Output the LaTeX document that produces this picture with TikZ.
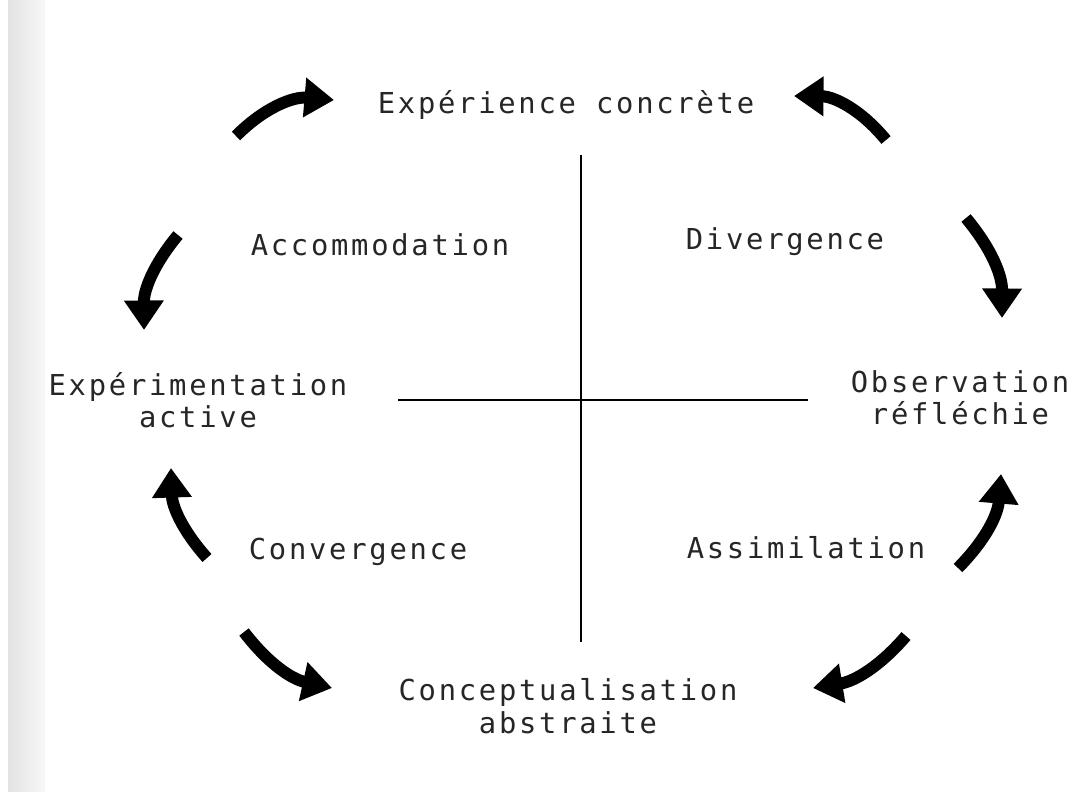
\documentclass[tikz,border=0pt]{standalone}
\usepackage{fontspec}
\newfontfamily\typewriter[LetterSpace=9.5]{DejaVu Sans Mono}
\usetikzlibrary{arrows.meta}

\begin{document}
\begin{tikzpicture}[x=0.025cm,y=0.025cm,
                    label node/.style={align=center,inner sep=0pt,text=black!85,
                      font=\typewriter\fontsize{20.5}{23}\selectfont},
                    cycle arrow/.style={line width=8.5pt,
                      -{Triangle[length=21pt,width=27pt]}},
                    axis line/.style={line width=1.2pt}]
  \useasboundingbox (0,0) rectangle (1080,-791);
  \shade[left color=black!11,right color=black!3] (8,0) rectangle (45,-791);

  \node[label node] (1) at (566,-105) {Expérience concrète};
  \node[label node] (2) at (960,-398) {Observation\\réfléchie};
  \node[label node] (3) at (568,-706) {Conceptualisation\\abstraite};
  \node[label node] (4) at (198,-400) {Expérimentation\\active};
  \node[label node] (5) at (380,-245) {Accommodation};
  \node[label node] (6) at (785,-242) {Divergence};
  \node[label node] (7) at (358,-552) {Convergence};
  \node[label node] (8) at (806,-548) {Assimilation};

  \coordinate (vtop) at (581,-155);
  \coordinate (vbot) at (581,-642);
  \coordinate (hleft) at (398,-400);
  \coordinate (hright) at (808,-400);
  \draw[axis line] (vtop) -- (vbot);
  \draw[axis line] (hleft) -- (hright);

  % arrows round the cycle
  \coordinate (a1) at (236,-136);  \coordinate (b1) at (334,-100);
  \coordinate (a2) at (886,-140);  \coordinate (b2) at (794,-96);
  \coordinate (a3) at (966,-218);  \coordinate (b3) at (1002,-318);
  \coordinate (a4) at (178,-235);  \coordinate (b4) at (144,-330);
  \coordinate (a5) at (207,-558);  \coordinate (b5) at (171,-468);
  \coordinate (a6) at (958,-568);  \coordinate (b6) at (1001,-474);
  \coordinate (a7) at (244,-632);  \coordinate (b7) at (332,-688);
  \coordinate (a8) at (906,-636);  \coordinate (b8) at (813,-688);
  \path[cycle arrow]
    (a1) edge [bend left=25] (b1)
    (a2) edge [bend right=25] (b2)
    (a3) edge [bend left=20] (b3)
    (a4) edge [bend right=20] (b4)
    (a5) edge [bend left=20] (b5)
    (a6) edge [bend right=20] (b6)
    (a7) edge [bend right=20] (b7)
    (a8) edge [bend left=20] (b8);
\end{tikzpicture}
\end{document}
